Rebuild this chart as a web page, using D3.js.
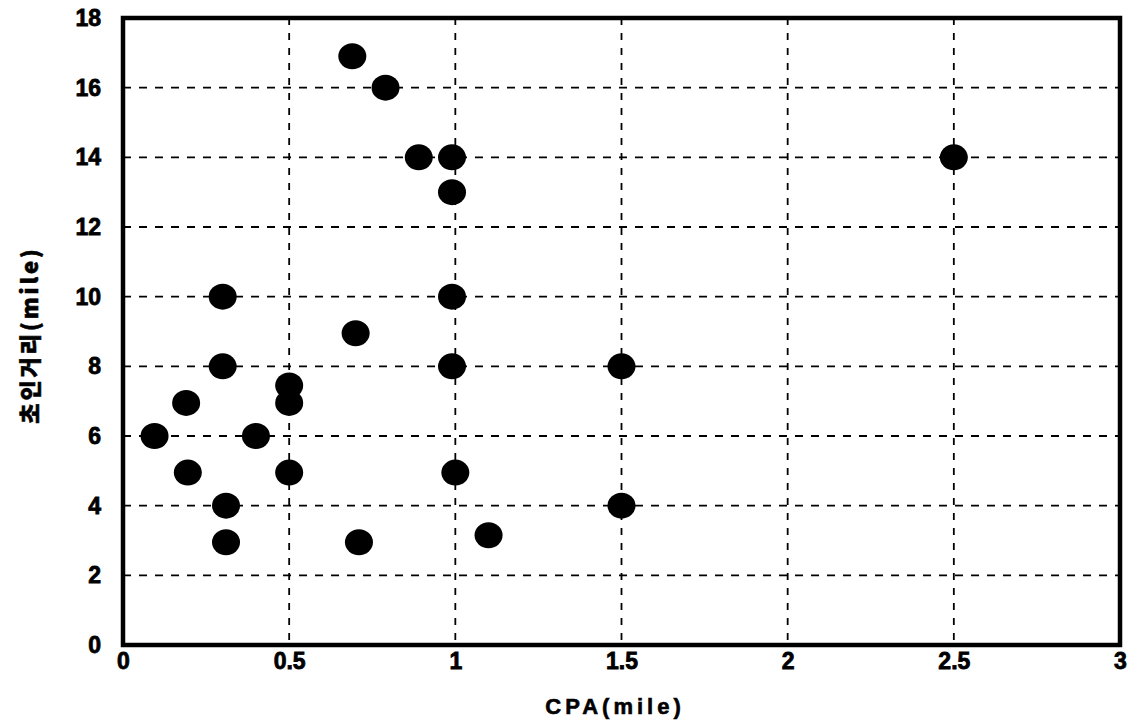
<!DOCTYPE html>
<html><head><meta charset="utf-8">
<script src="https://cdn.jsdelivr.net/npm/d3@7"></script>
<style>
body{margin:0;background:#fff;}
text{font-family:"Liberation Sans",Arial,sans-serif;font-weight:bold;fill:#000;}
</style></head>
<body><svg id="c" width="1130" height="722"></svg>
<script>
const cpa = [0.69,0.79,0.89,0.99,0.99,2.5,0.30,0.99,0.70,0.30,0.99,1.5,0.5,0.5,0.19,0.095,0.40,0.195,0.5,1.0,0.31,1.5,0.31,0.71,1.10];
const dist = [16.9,16,14,14,13,14,10,10,8.95,8,8,8,7.45,6.95,6.95,6,6,4.95,4.95,4.95,4,4,2.95,2.95,3.15];
const xTicks = [0,0.5,1,1.5,2,2.5,3];
const xTickLabels = ["0","0.5","1","1.5","2","2.5","3"];
const yTicks = [0,2,4,6,8,10,12,14,16,18];
const xTitle = "CPA(mile)";
const yTitle = "초인거리(mile)";

const svg = d3.select("#c");
const L=123,R=1120,T=18,B=645;
const x = d3.scaleLinear().domain([0,3]).range([L,R]);
const y = d3.scaleLinear().domain([0,18]).range([B,T]);

// grid
svg.append("g").selectAll("line").data(xTicks.filter(d=>d>0&&d<3)).join("line")
  .attr("x1",d=>x(d)).attr("x2",d=>x(d)).attr("y1",T).attr("y2",B)
  .attr("stroke","#000").attr("stroke-width",1.8).attr("stroke-dasharray","7,8");
svg.append("g").selectAll("line").data(yTicks.filter(d=>d>0&&d<18)).join("line")
  .attr("x1",L).attr("x2",R).attr("y1",d=>y(d)).attr("y2",d=>y(d))
  .attr("stroke","#000").attr("stroke-width",1.8).attr("stroke-dasharray","8,8");

// axes
const xa = svg.append("g").attr("transform",`translate(0,${B})`)
  .call(d3.axisBottom(x).tickValues(xTicks).tickFormat((d,i)=>xTickLabels[i]).tickSize(0).tickPadding(8));
xa.select(".domain").remove();
xa.selectAll("text").style("font-size","23px").style("font-family","'Liberation Sans',Arial,sans-serif").style("font-weight","bold")
  .attr("stroke","#000").attr("stroke-width",0.8);
const ya = svg.append("g").attr("transform",`translate(${L},0)`)
  .call(d3.axisLeft(y).tickValues(yTicks).tickSize(0).tickPadding(22));
ya.select(".domain").remove();
ya.selectAll("text").style("font-size","23px").style("font-family","'Liberation Sans',Arial,sans-serif").style("font-weight","bold")
  .attr("stroke","#000").attr("stroke-width",0.8);

// frame
svg.append("rect").attr("x",L).attr("y",T).attr("width",R-L).attr("height",B-T)
  .attr("fill","none").attr("stroke","#000").attr("stroke-width",4.5);

// points
svg.append("g").selectAll("ellipse").data(cpa.map((c,i)=>[c,dist[i]])).join("ellipse")
  .attr("cx",d=>x(d[0])).attr("cy",d=>y(d[1])).attr("rx",14).attr("ry",13).attr("fill","#000");

// titles
svg.append("text").attr("x",615).attr("y",714).attr("text-anchor","middle")
  .style("font-size","22px").style("letter-spacing","4px").attr("stroke","#000").attr("stroke-width",0.6).text(xTitle);
svg.append("text").attr("transform","translate(38,335) rotate(-90)").attr("text-anchor","middle")
  .style("font-size","22px").style("letter-spacing","3px").style("font-family","'Noto Sans CJK KR','Liberation Sans',sans-serif").style("font-weight","900")
  .attr("stroke","#000").attr("stroke-width",0.6).text(yTitle);
</script></body></html>
